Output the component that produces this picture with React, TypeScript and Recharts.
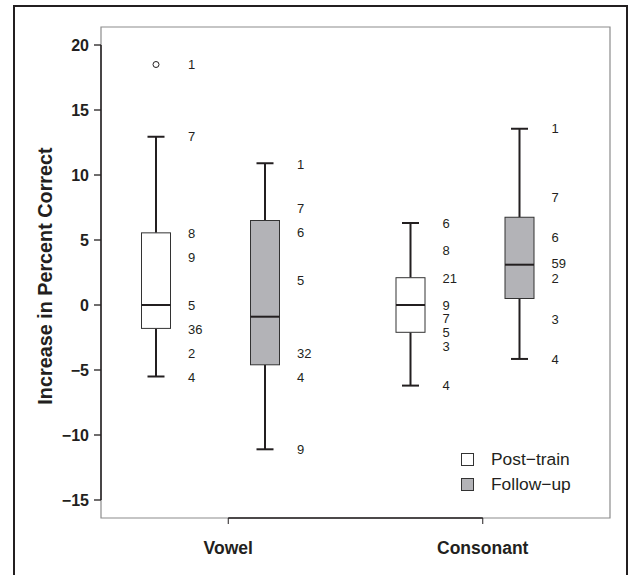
import React from 'react';
import {
  ComposedChart,
  Bar,
  XAxis,
  YAxis,
  ReferenceArea,
  ReferenceLine,
  Legend,
} from 'recharts';

// ---------------- data ----------------
const categories = ['Vowel', 'Consonant'];
const seriesNames = ['Post\u2212train', 'Follow\u2212up'];

const postLow = [-5.5, -6.2];
const postQ1 = [-1.8, -2.1];
const postMedian = [0, 0];
const postQ3 = [5.55, 2.1];
const postHigh = [12.95, 6.3];
const postOutliers: number[][] = [[18.5], []];

const followLow = [-11.1, -4.15];
const followQ1 = [-4.6, 0.5];
const followMedian = [-0.9, 3.1];
const followQ3 = [6.5, 6.75];
const followHigh = [10.9, 13.55];
const followOutliers: number[][] = [[], []];

const postCaseIds = [
  ['1', '7', '8', '9', '5', '36', '2', '4'],
  ['6', '8', '21', '9', '7', '5', '3', '4'],
];
const postCaseValues = [
  [18.5, 12.95, 5.5, 3.7, 0, -1.85, -3.75, -5.55],
  [6.3, 4.2, 2.05, 0, -1.05, -2.1, -3.15, -6.2],
];
const followCaseIds = [
  ['1', '7', '6', '5', '32', '4', '9'],
  ['1', '7', '6', '59', '2', '3', '4'],
];
const followCaseValues = [
  [10.85, 7.4, 5.6, 1.9, -3.75, -5.55, -11.1],
  [13.55, 8.25, 5.2, 3.18, 2.08, -1.1, -4.15],
];

const yTicks = [-15, -10, -5, 0, 5, 10, 15, 20];
const yDomain: [number, number] = [-16.385, 21.385];
const yLabel = 'Increase in Percent Correct';

// ---------------- styles ----------------
const FONT = '"Liberation Sans", Arial, Helvetica, sans-serif';
const INK = '#231f20';
const FILLS = ['#ffffff', '#b3b3b7'];
const BOX_W = 29;
const CAP_HALF = 8.5;
const SHIFT = -17.5;
const LABEL_DX = 32;

const rows = categories.map((cat, i) => ({
  cat,
  post: {
    low: postLow[i], q1: postQ1[i], med: postMedian[i], q3: postQ3[i], high: postHigh[i],
    out: postOutliers[i], ids: postCaseIds[i], vals: postCaseValues[i],
  },
  follow: {
    low: followLow[i], q1: followQ1[i], med: followMedian[i], q3: followQ3[i], high: followHigh[i],
    out: followOutliers[i], ids: followCaseIds[i], vals: followCaseValues[i],
  },
}));

const makeBoxShape = (key: 'post' | 'follow', fill: string) => (props: any) => {
  const { x, y, width, height, payload } = props;
  const s = payload[key];
  const top = Math.min(y, y + height);
  const bot = Math.max(y, y + height);
  const py = (v: number) => top + ((bot - top) * (s.high - v)) / (s.high - s.low);
  const cx = x + width / 2 + SHIFT;
  const half = BOX_W / 2;
  return (
    <g>
      <line x1={cx} x2={cx} y1={py(s.high)} y2={py(s.q3)} stroke={INK} strokeWidth={2} />
      <line x1={cx} x2={cx} y1={py(s.q1)} y2={py(s.low)} stroke={INK} strokeWidth={2} />
      <line x1={cx - CAP_HALF} x2={cx + CAP_HALF} y1={py(s.high)} y2={py(s.high)} stroke={INK} strokeWidth={2} />
      <line x1={cx - CAP_HALF} x2={cx + CAP_HALF} y1={py(s.low)} y2={py(s.low)} stroke={INK} strokeWidth={2} />
      <rect x={cx - half} y={py(s.q3)} width={BOX_W} height={py(s.q1) - py(s.q3)} fill={fill} stroke="#333" strokeWidth={1} />
      <line x1={cx - half} x2={cx + half} y1={py(s.med)} y2={py(s.med)} stroke={INK} strokeWidth={2} />
      {s.out.map((v: number, j: number) => (
        <circle key={'o' + j} cx={cx} cy={py(v)} r={3} fill="none" stroke={INK} strokeWidth={1} />
      ))}
      {s.ids.map((id: string, j: number) => (
        <text key={'l' + j} x={cx + LABEL_DX} y={py(s.vals[j])} dy="0.355em" fontSize={13} fontFamily={FONT} fill={INK}>
          {id}
        </text>
      ))}
    </g>
  );
};

const fmt = (v: number) => (v < 0 ? '\u2212' + Math.abs(v) : String(v));

const YTick = (props: any) => {
  const { x, y, payload } = props;
  return (
    <text x={x} y={y} dy="0.355em" textAnchor="end" fontSize={16} fontWeight="bold" fontFamily={FONT} fill={INK}>
      {fmt(payload.value)}
    </text>
  );
};

const XTick = (props: any) => {
  const { x, y, payload } = props;
  return (
    <text x={x} y={y} dy="0.71em" textAnchor="middle" fontSize={17.5} fontWeight="bold" fontFamily={FONT} fill={INK}>
      {payload.value}
    </text>
  );
};

const LegendContent = () => (
  <div style={{ fontFamily: FONT, fontSize: 17.4, color: INK }}>
    {seriesNames.map((n, i) => (
      <div key={n} style={{ display: 'flex', alignItems: 'center', height: 25 }}>
        <span
          style={{
            display: 'inline-block', width: 11, height: 11, background: FILLS[i],
            border: '1px solid #333', marginRight: 17,
          }}
        />
        <span>{n}</span>
      </div>
    ))}
  </div>
);

export default function App() {
  return (
    <div style={{ position: 'absolute', left: 0, top: 0, width: 631, height: 575, overflow: 'hidden', background: '#fff' }}>
      <div
        style={{
          position: 'absolute', left: 12.5, top: 5, width: 615, height: 575,
          boxSizing: 'border-box', border: `2.5px solid ${INK}`, borderBottom: 'none',
        }}
      />
      <ComposedChart
        width={631}
        height={575}
        data={rows}
        margin={{ top: 27, right: 21, bottom: 17, left: 0 }}
        barGap={80}
        style={{ position: 'absolute', left: 0, top: 0 }}
      >
        <XAxis
          dataKey="cat"
          height={40}
          tickSize={6}
          tickMargin={18}
          axisLine={false}
          tickLine={{ stroke: INK, strokeWidth: 1 }}
          tick={<XTick />}
        />
        <XAxis xAxisId="frame" type="number" domain={[0, 1]} hide />
        <YAxis
          type="number"
          domain={yDomain}
          ticks={yTicks}
          allowDataOverflow
          width={101}
          tickSize={7}
          tickMargin={5}
          axisLine={false}
          tickLine={{ stroke: INK, strokeWidth: 1.3 }}
          tick={<YTick />}
          label={{
            content: () => (
              <text
                x={45}
                y={276}
                transform="rotate(-90 45 276)"
                textAnchor="middle"
                dy="0.355em"
                fontSize={19.8}
                fontWeight="bold"
                fontFamily={FONT}
                fill={INK}
              >
                {yLabel}
              </text>
            ),
          }}
        />
        <ReferenceArea
          xAxisId="frame"
          x1={0}
          x2={1}
          y1={yDomain[0]}
          y2={yDomain[1]}
          fill="none"
          fillOpacity={0}
          stroke="#8c8c8c"
          strokeWidth={1.2}
          ifOverflow="visible"
        />
        <ReferenceLine
          xAxisId="frame"
          segment={[{ x: 0, y: yTicks[0] }, { x: 0, y: yTicks[yTicks.length - 1] }]}
          stroke={INK}
          strokeWidth={1.5}
          ifOverflow="visible"
        />
        <ReferenceLine
          segment={[{ x: categories[0], y: yDomain[0] }, { x: categories[categories.length - 1], y: yDomain[0] }]}
          stroke={INK}
          strokeWidth={1.5}
          ifOverflow="visible"
        />
        <Bar
          dataKey={(d: any) => [d.post.low, d.post.high]}
          name={seriesNames[0]}
          barSize={BOX_W}
          fill={FILLS[0]}
          shape={makeBoxShape('post', FILLS[0])}
          isAnimationActive={false}
        />
        <Bar
          dataKey={(d: any) => [d.follow.low, d.follow.high]}
          name={seriesNames[1]}
          barSize={BOX_W}
          fill={FILLS[1]}
          shape={makeBoxShape('follow', FILLS[1])}
          isAnimationActive={false}
        />
        <Legend
          layout="vertical"
          align="center"
          verticalAlign="middle"
          content={<LegendContent />}
          wrapperStyle={{ left: 461, top: 446.5, width: 160, height: 50 }}
        />
      </ComposedChart>
    </div>
  );
}
